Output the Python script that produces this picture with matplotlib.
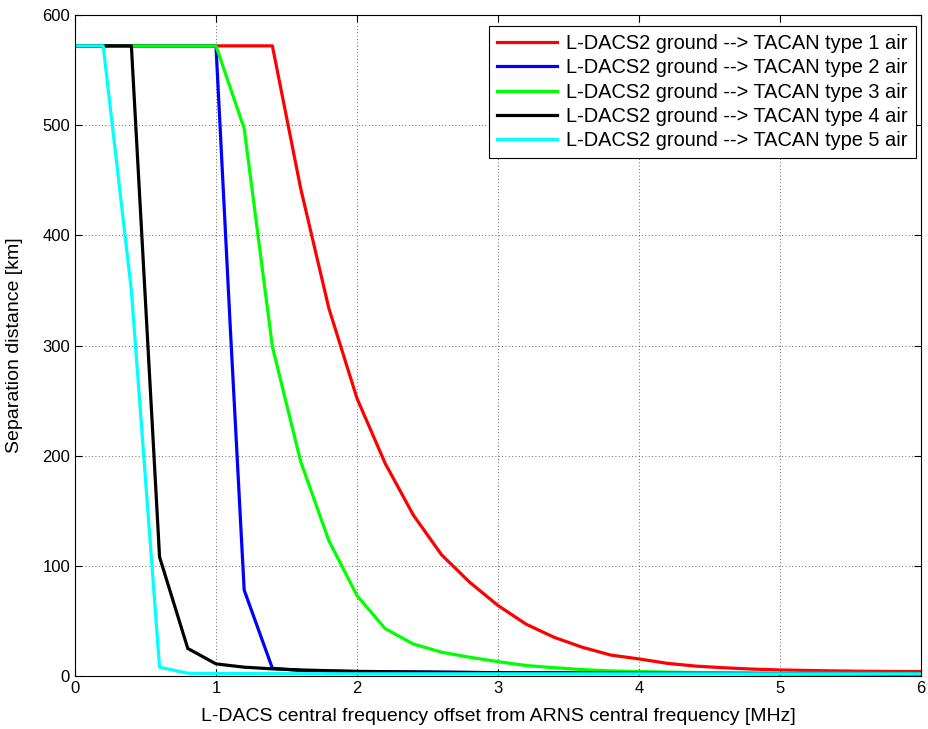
import matplotlib
matplotlib.use("Agg")
import matplotlib.pyplot as plt

plt.rcParams["font.family"] = ["Liberation Sans", "DejaVu Sans"]

# type 1 (red)
x1 = [0, 1.4, 1.6, 1.8, 2.0, 2.2, 2.4, 2.6, 2.8, 3.0, 3.2, 3.4, 3.6, 3.8, 4.0,
      4.2, 4.4, 4.6, 4.8, 5.0, 5.2, 5.4, 5.6, 5.8, 6.0]
y1 = [572, 572, 443, 334, 252, 193, 146, 110, 85, 64, 47, 35, 26, 19, 15.5,
      11.5, 9, 7.5, 6.3, 5.5, 5, 4.6, 4.3, 4.1, 4]
# type 2 (blue)
x2 = [0, 1.0, 1.1, 1.2, 1.4, 1.6, 1.8, 2.0, 3.0, 4.0, 5.0, 6.0]
y2 = [572, 572, 320, 78, 7, 5, 4.5, 4, 3, 2.5, 2.2, 2]
# type 3 (green)
x3 = [0, 1.0, 1.2, 1.4, 1.6, 1.8, 2.0, 2.2, 2.4, 2.6, 2.8, 3.0, 3.2, 3.4, 3.6,
      3.8, 4.0, 4.2, 4.4, 5.0, 6.0]
y3 = [572, 572, 497, 299, 195, 123, 73, 43, 29, 21.6, 17, 13, 9.5, 7.5, 5.8,
      4.6, 4, 3.5, 3.2, 2.6, 2.2]
# type 4 (black)
x4 = [0, 0.4, 0.6, 0.8, 1.0, 1.2, 1.4, 1.6, 1.8, 2.0, 3.0, 4.0, 5.0, 6.0]
y4 = [572, 572, 108, 25, 11, 8, 6.5, 5.5, 4.8, 4.2, 3, 2.5, 2.2, 2]
# type 5 (cyan)
x5 = [0, 0.2, 0.4, 0.6, 0.8, 1.0, 2.0, 3.0, 4.0, 5.0, 6.0]
y5 = [572, 572, 350, 8, 2.5, 2.2, 2, 2, 2, 2, 2]

labels = ["L-DACS2 ground --> TACAN type %d air" % k for k in range(1, 6)]
colors = ["#ff0000", "#0000ff", "#00ff00", "#000000", "#00ffff"]
series = [(x1, y1), (x2, y2), (x3, y3), (x4, y4), (x5, y5)]

fig = plt.figure(figsize=(9.29, 7.29), dpi=100)
ax = fig.add_axes([0.0807, 0.0727, 0.9107, 0.9067])

for (xs, ys), c, lab in zip(series, colors, labels):
    ax.plot(xs, ys, color=c, lw=2.3, label=lab)

ax.set_xlim(0, 6)
ax.set_ylim(0, 600)
ax.set_xticks(range(0, 7))
ax.set_yticks(range(0, 601, 100))
ax.grid(True, color="black", linestyle=(0, (1, 3)), linewidth=0.6, alpha=0.8)
ax.tick_params(direction="in", top=True, right=True, labelsize=12, length=5)
for s in ax.spines.values():
    s.set_linewidth(0.8)

ax.set_xlabel("L-DACS central frequency offset from ARNS central frequency [MHz]", fontsize=14)
ax.set_ylabel("Separation distance [km]", fontsize=14)
ax.xaxis.set_label_coords(0.5, -0.048)
ax.yaxis.set_label_coords(-0.062, 0.5)

leg = ax.legend(loc="upper right", bbox_to_anchor=(0.994, 0.983), borderaxespad=0,
                fontsize=14.4, fancybox=False, framealpha=1, edgecolor="black",
                handlelength=3.0, handletextpad=0.45, labelspacing=0.26,
                borderpad=0.4)
leg.get_frame().set_linewidth(0.8)

fig.savefig("out.png", dpi=100)
